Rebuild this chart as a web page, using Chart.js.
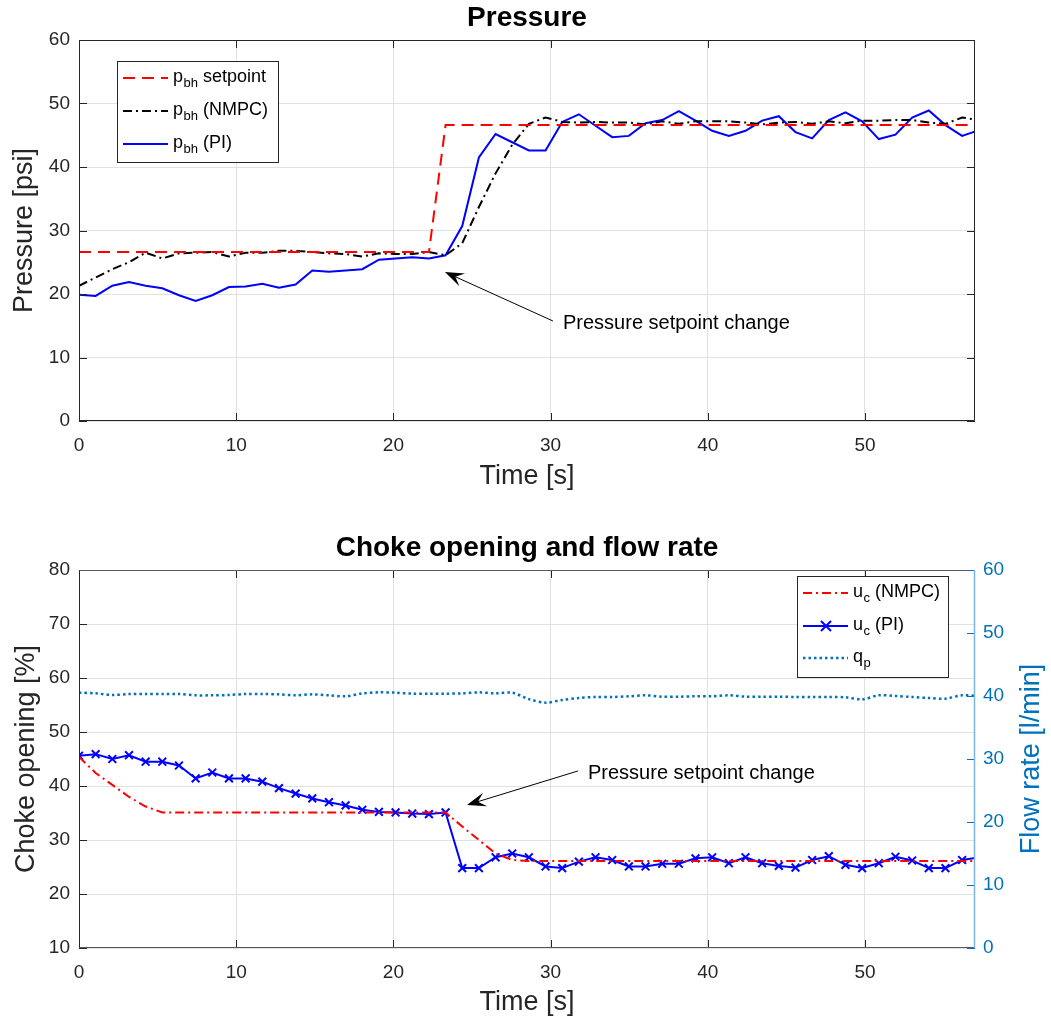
<!DOCTYPE html>
<html><head><meta charset="utf-8">
<script src="https://cdn.jsdelivr.net/npm/chart.js@4.4.1/dist/chart.umd.min.js"></script>
<style>
html,body{margin:0;padding:0;background:#fff;}
#wrap{position:relative;width:1051px;height:1024px;overflow:hidden;}
canvas{position:absolute;left:0;}
</style></head><body>
<div id="wrap">
<canvas id="c1" width="1051" height="510" style="top:0;width:1051px;height:510px"></canvas>
<canvas id="c2" width="1051" height="514" style="top:510px;width:1051px;height:514px"></canvas>
</div>
<script>
// ---- data ----
const time = [0,1.06,2.12,3.18,4.24,5.3,6.36,7.42,8.48,9.54,10.6,11.66,12.72,13.78,14.84,15.9,16.96,18.02,19.08,20.14,21.2,22.26,23.32,24.38,25.44,26.5,27.56,28.62,29.68,30.74,31.8,32.86,33.92,34.98,36.04,37.1,38.16,39.22,40.28,41.34,42.4,43.46,44.52,45.58,46.64,47.7,48.76,49.82,50.88,51.94,53.0,54.06,55.12,56.18,57.24];
const pSetpoint = [26.6,26.6,26.6,26.6,26.6,26.6,26.6,26.6,26.6,26.6,26.6,26.6,26.6,26.6,26.6,26.6,26.6,26.6,26.6,26.6,26.6,26.6,46.6,46.6,46.6,46.6,46.6,46.6,46.6,46.6,46.6,46.6,46.6,46.6,46.6,46.6,46.6,46.6,46.6,46.6,46.6,46.6,46.6,46.6,46.6,46.6,46.6,46.6,46.6,46.6,46.6,46.6,46.6,46.6,46.6];
const pNMPC = [21.3,22.6,23.9,25.0,26.5,25.6,26.4,26.5,26.6,25.9,26.5,26.5,26.8,26.8,26.6,26.4,26.3,25.9,26.4,26.3,26.3,26.6,26.1,28.0,33.7,39.0,43.5,46.8,47.8,47.1,47.0,47.1,47.0,47.0,46.7,47.2,46.8,47.2,47.2,47.2,47.0,46.7,47.0,47.1,46.8,47.2,46.9,47.3,47.3,47.4,47.4,47.0,46.8,47.8,47.4];
const pPI = [19.9,19.7,21.3,21.9,21.3,20.9,19.8,18.9,19.8,21.1,21.2,21.6,21.0,21.5,23.7,23.5,23.7,23.9,25.4,25.6,25.8,25.6,26.1,30.7,41.5,45.2,43.9,42.6,42.6,47.1,48.3,46.5,44.7,44.9,46.9,47.4,48.8,47.3,45.7,44.9,45.7,47.3,48.0,45.5,44.5,47.4,48.6,47.2,44.4,45.1,47.8,48.9,46.6,44.9,45.8];
const ucNMPC = [45.4,42.4,40.2,38.0,36.2,35.1,35.1,35.1,35.1,35.1,35.1,35.1,35.1,35.1,35.1,35.1,35.1,35.1,35.1,35.1,35.1,35.1,35.1,32.5,30.0,27.5,26.3,26.1,26.1,26.1,26.1,26.1,26.1,26.1,26.1,26.1,26.1,26.1,26.1,26.1,26.1,26.1,26.1,26.1,26.1,26.1,26.1,26.1,26.1,26.1,26.1,26.1,26.1,26.1,26.1];
const ucPI = [45.6,45.9,45.0,45.7,44.5,44.5,43.8,41.4,42.5,41.4,41.4,40.8,39.6,38.6,37.7,37.0,36.4,35.6,35.2,35.1,34.9,34.8,35.1,24.8,24.8,26.8,27.5,26.8,25.1,24.8,26.0,26.8,26.3,25.1,25.1,25.6,25.6,26.6,26.8,25.7,26.8,25.7,25.2,24.9,26.3,27.0,25.4,24.8,25.7,26.9,26.2,24.8,24.8,26.3,26.8];
const qp = [40.53,40.42,40.16,40.32,40.32,40.32,40.32,40.11,40.11,40.16,40.32,40.32,40.26,40.11,40.26,40.11,39.95,40.42,40.58,40.53,40.37,40.37,40.37,40.42,40.58,40.42,40.53,39.5,38.94,39.37,39.68,39.84,39.84,39.95,40.11,39.89,39.89,39.95,39.95,40.11,39.89,39.89,39.89,39.84,39.84,39.84,39.79,39.47,40.11,40.0,39.84,39.68,39.58,40.11,40.0];
const xTicks = [0,10,20,30,40,50];
const xRange = [0,57];
const pRange = [0,60];
const ucRange = [10,80];
const qRange = [0,60];

// ---- styling ----
const FONT = '"Liberation Sans", Arial, Helvetica, sans-serif';
const TXT = '#262626';
const GRID = '#e1e1e1';
const QBLUE = '#0072BD';
const DASH_SET = [12,7];
const DASH_DOT = [9,4,2,4];
const DOT = [2.5,3];

function pts(arr){ return time.map((t,i)=>({x:t,y:arr[i]})); }

function xScale(){
  return {type:'linear',min:xRange[0],max:xRange[1],
    afterBuildTicks(s){ s.ticks = xTicks.map(v=>({value:v})); },
    grid:{color:GRID,drawTicks:false,lineWidth:1},border:{display:false},
    ticks:{font:{family:FONT,size:19},color:TXT,padding:13,maxRotation:0}};
}

function drawSubText(ctx,x,y,base,sub,rest,size){
  ctx.font = size+'px '+FONT; ctx.fillText(base,x,y);
  let w = ctx.measureText(base).width;
  const ss = Math.round(size*0.72);
  ctx.font = ss+'px '+FONT; ctx.fillText(sub,x+w+0.5,y+size*0.33);
  w += ctx.measureText(sub).width+0.5;
  ctx.font = size+'px '+FONT; ctx.fillText(rest,x+w,y);
}

function drawArrow(ctx,x1,y1,x2,y2){
  const ang = Math.atan2(y2-y1,x2-x1), L=19, W=7;
  const c=Math.cos(ang), s=Math.sin(ang);
  ctx.beginPath(); ctx.moveTo(x1,y1); ctx.lineTo(x2-c*L*0.6,y2-s*L*0.6);
  ctx.strokeStyle='#000'; ctx.lineWidth=1; ctx.stroke();
  const P=(u,v)=>[x2-c*u-s*v, y2-s*u+c*v];
  ctx.beginPath();
  let p=P(0,0); ctx.moveTo(p[0],p[1]);
  p=P(L,W); ctx.lineTo(p[0],p[1]);
  p=P(L*0.6,0); ctx.lineTo(p[0],p[1]);
  p=P(L,-W); ctx.lineTo(p[0],p[1]);
  ctx.closePath(); ctx.fillStyle='#000'; ctx.fill();
}

function drawFrame(chart,dual){
  const ctx=chart.ctx,a=chart.chartArea,L=8;
  const xs=chart.scales.x, ys=chart.scales.y;
  ctx.save(); ctx.lineWidth=1; ctx.strokeStyle=TXT;
  ctx.beginPath();
  xs.ticks.forEach(t=>{const p=Math.round(xs.getPixelForValue(t.value))+0.5;
    ctx.moveTo(p,a.bottom); ctx.lineTo(p,a.bottom-L); ctx.moveTo(p,a.top); ctx.lineTo(p,a.top+L);});
  ys.ticks.forEach(t=>{const p=Math.round(ys.getPixelForValue(t.value))+0.5;
    ctx.moveTo(a.left,p); ctx.lineTo(a.left+L,p);
    if(!dual){ctx.moveTo(a.right,p); ctx.lineTo(a.right-L,p);} });
  ctx.stroke();
  const l=a.left+0.5,r=a.right-0.5,t=a.top+0.5,b=a.bottom-0.5;
  ctx.beginPath(); ctx.moveTo(l,t); ctx.lineTo(l,b);
  ctx.strokeStyle=TXT; ctx.stroke();
  ctx.beginPath(); ctx.moveTo(l,b); ctx.lineTo(r,b); ctx.moveTo(l,t); ctx.lineTo(r,t);
  ctx.strokeStyle= dual ? '#5a5a5a' : TXT; ctx.stroke();
  if(dual){
    const y2=chart.scales.y2;
    ctx.beginPath(); ctx.strokeStyle=QBLUE;
    y2.ticks.forEach(tk=>{const p=Math.round(y2.getPixelForValue(tk.value))+0.5; ctx.moveTo(a.right,p); ctx.lineTo(a.right-L,p);});
    ctx.stroke();
    ctx.beginPath(); ctx.strokeStyle='#7db4e0'; ctx.lineWidth=1.5; ctx.moveTo(r,a.top); ctx.lineTo(r,a.bottom); ctx.stroke();
  } else {
    ctx.beginPath(); ctx.moveTo(r,t); ctx.lineTo(r,b); ctx.stroke();
  }
  ctx.restore();
}

function legendBox(ctx,x,y,w,h){
  ctx.fillStyle='#fff'; ctx.fillRect(x,y,w,h);
  ctx.strokeStyle=TXT; ctx.lineWidth=1; ctx.strokeRect(x+0.5,y+0.5,w,h);
}
function legendLine(ctx,x1,x2,y,color,dash,width){
  ctx.save(); ctx.beginPath(); ctx.setLineDash(dash); ctx.strokeStyle=color; ctx.lineWidth=width;
  ctx.moveTo(x1,y); ctx.lineTo(x2,y); ctx.stroke(); ctx.restore();
}

// ---- top chart ----
const topPlugin = {id:'topExtras', afterDraw(chart){
  const ctx=chart.ctx, xs=chart.scales.x, ys=chart.scales.y, a=chart.chartArea;
  drawFrame(chart,false);
  ctx.save();
  ctx.textBaseline='middle'; ctx.fillStyle='#000';
  ctx.textAlign='center';
  ctx.font='bold 28px '+FONT; ctx.fillText('Pressure',(a.left+a.right)/2,18);
  ctx.fillStyle=TXT; ctx.font='27px '+FONT; ctx.fillText('Time [s]',(a.left+a.right)/2,477);
  ctx.save(); ctx.translate(25,(a.top+a.bottom)/2); ctx.rotate(-Math.PI/2); ctx.fillText('Pressure [psi]',0,0); ctx.restore();
  // annotation
  drawArrow(ctx,xs.getPixelForValue(30.15),ys.getPixelForValue(15.75),xs.getPixelForValue(23.28),ys.getPixelForValue(23.46));
  ctx.textAlign='left'; ctx.fillStyle='#000'; ctx.font='20px '+FONT;
  ctx.fillText('Pressure setpoint change',xs.getPixelForValue(30.79),ys.getPixelForValue(15.43));
  // legend
  legendBox(ctx,117,61,161,101);
  legendLine(ctx,123,168,78,'#ff0000',DASH_SET,2);
  legendLine(ctx,123,168,111,'#000000',DASH_DOT,2);
  legendLine(ctx,123,168,144,'#0000ff',[],2);
  ctx.fillStyle='#000';
  drawSubText(ctx,173,77,'p','bh',' setpoint',18);
  drawSubText(ctx,173,110,'p','bh',' (NMPC)',18);
  drawSubText(ctx,173,143,'p','bh',' (PI)',18);
  ctx.restore();
}};

new Chart(document.getElementById('c1'),{
  type:'line',
  data:{datasets:[
    {label:'pbh setpoint',data:pts(pSetpoint),borderColor:'#ff0000',borderWidth:2,borderDash:DASH_SET,pointRadius:0,tension:0},
    {label:'pbh (NMPC)',data:pts(pNMPC),borderColor:'#000000',borderWidth:2,borderDash:DASH_DOT,pointRadius:0,tension:0},
    {label:'pbh (PI)',data:pts(pPI),borderColor:'#0000ff',borderWidth:2,pointRadius:0,tension:0}
  ]},
  options:{responsive:false,animation:false,devicePixelRatio:1,
    layout:{padding:{left:0,right:76,top:40,bottom:0}},
    plugins:{legend:{display:false},tooltip:{enabled:false},title:{display:false}},
    scales:{
      x:Object.assign(xScale(),{afterFit(s){s.height=89;}}),
      y:{type:'linear',min:pRange[0],max:pRange[1],ticks:{stepSize:10,font:{family:FONT,size:19},color:TXT,padding:9},
        grid:{color:GRID,drawTicks:false},border:{display:false},afterFit(s){s.width=79;}}
    }},
  plugins:[topPlugin]
});

// ---- bottom chart ----
const botPlugin = {id:'botExtras', afterDraw(chart){
  const ctx=chart.ctx, xs=chart.scales.x, ys=chart.scales.y, a=chart.chartArea;
  drawFrame(chart,true);
  ctx.save();
  ctx.textBaseline='middle'; ctx.textAlign='center';
  ctx.fillStyle='#000'; ctx.font='bold 28px '+FONT;
  ctx.fillText('Choke opening and flow rate',(a.left+a.right)/2,38);
  ctx.fillStyle=TXT; ctx.font='27px '+FONT; ctx.fillText('Time [s]',(a.left+a.right)/2,493);
  ctx.save(); ctx.translate(27,(a.top+a.bottom)/2); ctx.rotate(-Math.PI/2); ctx.fillText('Choke opening [%]',0,0); ctx.restore();
  ctx.save(); ctx.fillStyle=QBLUE; ctx.translate(1032,(a.top+a.bottom)/2); ctx.rotate(-Math.PI/2); ctx.fillText('Flow rate [l/min]',0,0); ctx.restore();
  drawArrow(ctx,xs.getPixelForValue(31.74),ys.getPixelForValue(42.78),xs.getPixelForValue(24.68),ys.getPixelForValue(36.48));
  ctx.textAlign='left'; ctx.fillStyle='#000'; ctx.font='20px '+FONT;
  ctx.fillText('Pressure setpoint change',xs.getPixelForValue(32.38),ys.getPixelForValue(42.41));
  // legend
  legendBox(ctx,797,66,151,101);
  legendLine(ctx,803,848,83,'#ff0000',DASH_DOT,2);
  legendLine(ctx,803,848,116,'#0000ff',[],2);
  ctx.beginPath(); ctx.strokeStyle='#0000ff'; ctx.lineWidth=2;
  ctx.moveTo(821,111); ctx.lineTo(831,121); ctx.moveTo(831,111); ctx.lineTo(821,121); ctx.stroke();
  legendLine(ctx,803,848,148,QBLUE,DOT,2.5);
  ctx.fillStyle='#000';
  drawSubText(ctx,853,82,'u','c',' (NMPC)',18);
  drawSubText(ctx,853,115,'u','c',' (PI)',18);
  drawSubText(ctx,853,147,'q','p','',18);
  ctx.restore();
}};

new Chart(document.getElementById('c2'),{
  type:'line',
  data:{datasets:[
    {label:'uc (NMPC)',data:pts(ucNMPC),yAxisID:'y',borderColor:'#ff0000',borderWidth:2,borderDash:DASH_DOT,pointRadius:0,tension:0},
    {label:'uc (PI)',data:pts(ucPI),yAxisID:'y',borderColor:'#0000ff',borderWidth:2,pointStyle:'crossRot',pointRadius:5.5,pointBorderWidth:2,pointBorderColor:'#0000ff',pointBackgroundColor:'#0000ff',tension:0},
    {label:'qp',data:pts(qp),yAxisID:'y2',borderColor:QBLUE,borderWidth:2.5,borderDash:DOT,pointRadius:0,tension:0.3}
  ]},
  options:{responsive:false,animation:false,devicePixelRatio:1,
    layout:{padding:{left:0,right:0,top:60,bottom:0}},
    plugins:{legend:{display:false},tooltip:{enabled:false},title:{display:false}},
    scales:{
      x:Object.assign(xScale(),{afterFit(s){s.height=76;}}),
      y:{type:'linear',position:'left',min:ucRange[0],max:ucRange[1],ticks:{stepSize:10,font:{family:FONT,size:19},color:TXT,padding:9},
        grid:{color:GRID,drawTicks:false},border:{display:false},afterFit(s){s.width=79;}},
      y2:{type:'linear',position:'right',min:qRange[0],max:qRange[1],ticks:{stepSize:10,font:{family:FONT,size:19},color:QBLUE,padding:8},
        grid:{drawOnChartArea:false,drawTicks:false},border:{display:false},afterFit(s){s.width=76;}}
    }},
  plugins:[botPlugin]
});
</script>
</body></html>
